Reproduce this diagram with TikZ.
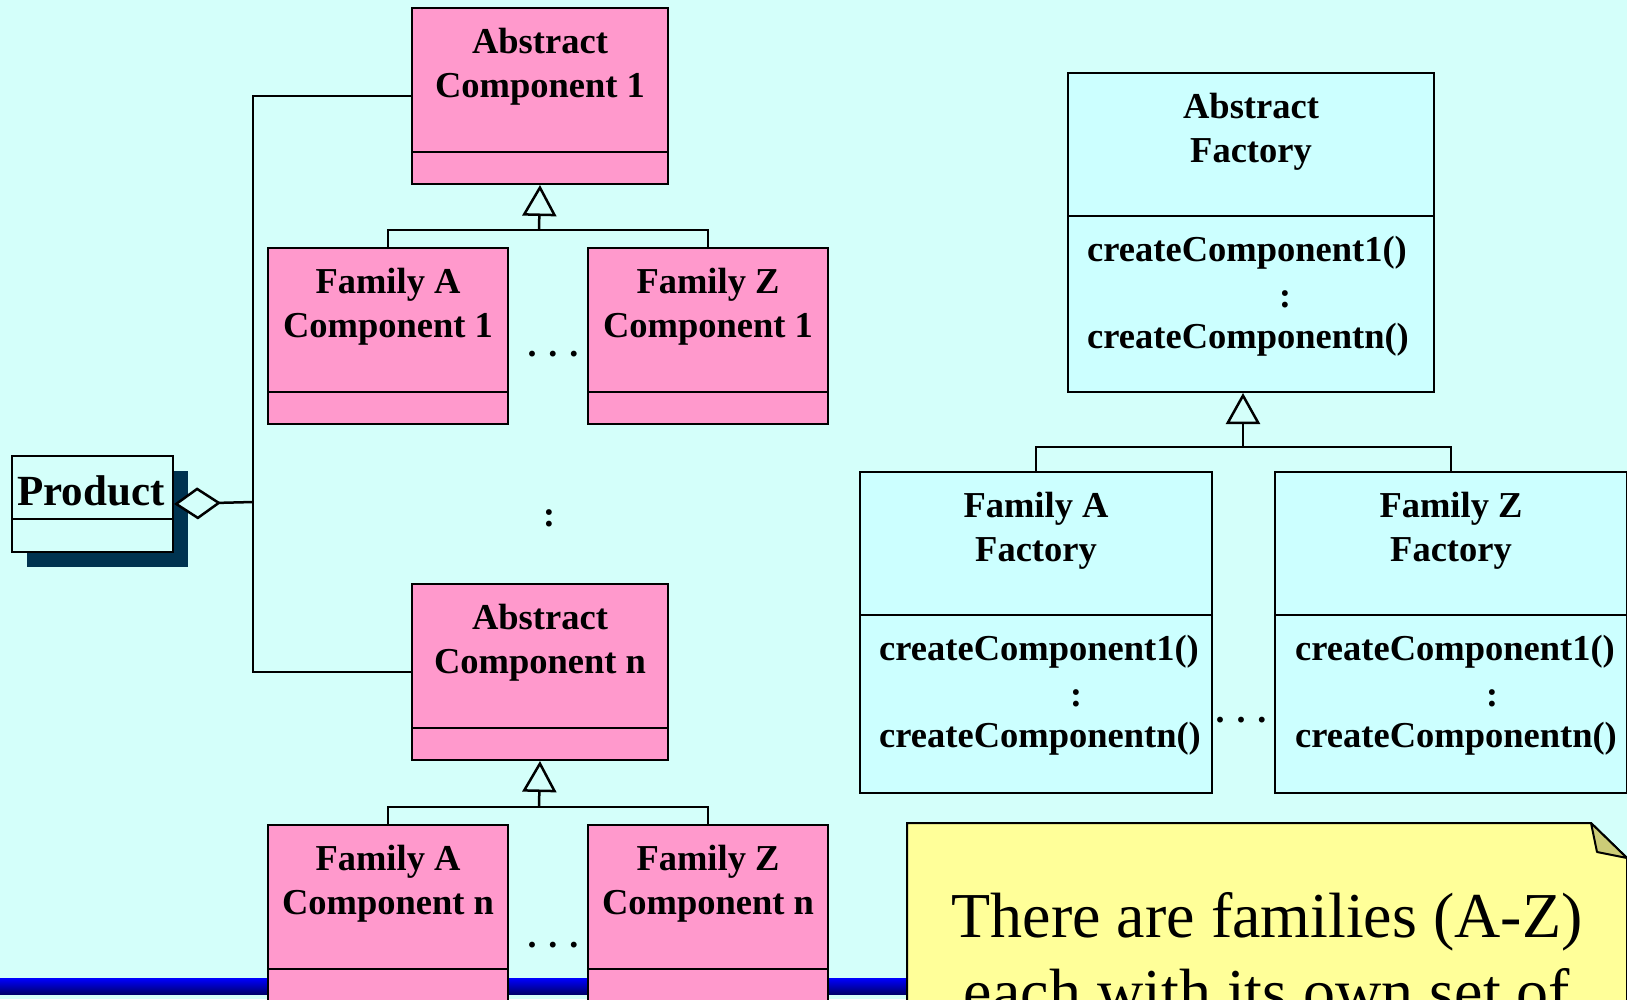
\documentclass[tikz,border=0pt]{standalone}
\usepackage{fontspec}
\setmainfont{Liberation Serif}
\usetikzlibrary{arrows.meta,shadows}

\definecolor{bgcyan}{RGB}{212,255,250}
\definecolor{factorycyan}{RGB}{204,255,255}
\definecolor{compink}{RGB}{255,153,204}
\definecolor{noteyellow}{RGB}{255,255,153}
\definecolor{notefold}{RGB}{204,204,119}
\definecolor{shadownavy}{RGB}{0,51,80}
\definecolor{barblue}{RGB}{0,0,255}
\definecolor{bardark}{RGB}{0,0,110}

\tikzset{
  classbox/.style={draw=black, line width=2pt, rectangle, inner sep=0pt, anchor=north west},
  compbox/.style={classbox, fill=compink},
  factbox/.style={classbox, fill=factorycyan},
  divider/.style={draw=black, line width=2pt},
  boxtitle/.style={anchor=north, inner sep=0pt, align=center, font=\fontsize{36.5}{44}\selectfont\bfseries},
  method/.style={anchor=base west, inner sep=0pt, font=\fontsize{36.5}{44}\selectfont\bfseries},
  sep/.style={anchor=base, inner sep=0pt, font=\fontsize{36}{44}\selectfont\bfseries},
  conn/.style={draw=black, line width=2.5pt},
  generalize/.style={conn, -{Triangle[fill=bgcyan, length=31pt, width=34pt, line width=2.5pt]}},
  aggregate/.style={conn, {Diamond[fill=bgcyan, length=47pt, width=32pt, line width=2.5pt]}-},
}

\begin{document}
\begin{tikzpicture}[x=1pt, y=-1pt]
  \useasboundingbox (0,0) rectangle (1627,999);
  \clip (0,0) rectangle (1627,999);
  \fill[bgcyan] (0,0) rectangle (1627,999);

  % slide footer bar
  \shade[top color=barblue, bottom color=bardark] (0,978) rectangle (907,994);

  % ---------- component hierarchy 1 ----------
  \node[compbox, minimum width=256pt, minimum height=176pt] (AC1) at (411,7) {};
  \draw[divider] ([yshift=-145pt]AC1.north west) -- ([yshift=-145pt]AC1.north east);
  \node[boxtitle] (AC1t) at ([yshift=-21pt]AC1.north) {Abstract\\Component\ 1};

  \node[compbox, minimum width=240pt, minimum height=176pt] (FA1) at (267,247) {};
  \draw[divider] ([yshift=-145pt]FA1.north west) -- ([yshift=-145pt]FA1.north east);
  \node[boxtitle] (FA1t) at ([yshift=-21pt]FA1.north) {Family A\\Component\ 1};

  \node[compbox, minimum width=240pt, minimum height=176pt] (FZ1) at (587,247) {};
  \draw[divider] ([yshift=-145pt]FZ1.north west) -- ([yshift=-145pt]FZ1.north east);
  \node[boxtitle] (FZ1t) at ([yshift=-21pt]FZ1.north) {Family Z\\Component\ 1};

  \node[sep] (dots1) at (553,356) {. . .};

  \coordinate (g1) at (539,230);
  \draw[conn] (FA1.north) |- (g1) -| (FZ1.north);
  \draw[generalize] (g1) -- (AC1.south);

  \node[sep] (vdots) at (549,526) {:};

  % ---------- component hierarchy n ----------
  \node[compbox, minimum width=256pt, minimum height=176pt] (ACn) at (411,583) {};
  \draw[divider] ([yshift=-145pt]ACn.north west) -- ([yshift=-145pt]ACn.north east);
  \node[boxtitle] (ACnt) at ([yshift=-21pt]ACn.north) {Abstract\\Component\ n};

  \node[compbox, minimum width=240pt, minimum height=178pt] (FAn) at (267,824) {};
  \draw[divider] ([yshift=-145pt]FAn.north west) -- ([yshift=-145pt]FAn.north east);
  \node[boxtitle] (FAnt) at ([yshift=-21pt]FAn.north) {Family A\\Component\ n};

  \node[compbox, minimum width=240pt, minimum height=178pt] (FZn) at (587,824) {};
  \draw[divider] ([yshift=-145pt]FZn.north west) -- ([yshift=-145pt]FZn.north east);
  \node[boxtitle] (FZnt) at ([yshift=-21pt]FZn.north) {Family Z\\Component\ n};

  \node[sep] (dots2) at (553,947) {. . .};

  \coordinate (g2) at (539,807);
  \draw[conn] (FAn.north) |- (g2) -| (FZn.north);
  \draw[generalize] (g2) -- (ACn.south);

  % ---------- product with aggregation ----------
  \node[classbox, fill=bgcyan, minimum width=161pt, minimum height=96pt,
        drop shadow={fill=shadownavy, opacity=1, shadow xshift=15pt, shadow yshift=-15pt}]
        (Product) at (11,455) {};
  \draw[divider] ([yshift=-64pt]Product.north west) -- ([yshift=-64pt]Product.north east);
  \node[anchor=base, inner sep=0pt, font=\fontsize{43}{50}\selectfont\bfseries] (Productt) at (91,505) {Product};

  \coordinate (bus) at (253,502);
  \draw[conn] (AC1.west) -| (bus) |- (ACn.west);
  \draw[aggregate] (Product.east) -- (bus);

  % ---------- factory hierarchy ----------
  \node[factbox, minimum width=366pt, minimum height=319pt] (AF) at (1067,72) {};
  \draw[divider] ([yshift=-144pt]AF.north west) -- ([yshift=-144pt]AF.north east);
  \node[boxtitle] (AFt) at ([yshift=-21pt]AF.north) {Abstract\\Factory};
  \node[method] (AFm1) at (1087,261) {createComponent1()};
  \node[sep] (AFc) at (1285,307) {:};
  \node[method] (AFm2) at (1087,348) {createComponentn()};

  \node[factbox, minimum width=352pt, minimum height=321pt] (FAF) at (859,471) {};
  \draw[divider] ([yshift=-144pt]FAF.north west) -- ([yshift=-144pt]FAF.north east);
  \node[boxtitle] (FAFt) at ([yshift=-21pt]FAF.north) {Family A\\Factory};
  \node[method] (FAFm1) at (879,660) {createComponent1()};
  \node[sep] (FAFc) at (1076,706) {:};
  \node[method] (FAFm2) at (879,747) {createComponentn()};

  \node[factbox, minimum width=352pt, minimum height=321pt] (FZF) at (1274,471) {};
  \draw[divider] ([yshift=-144pt]FZF.north west) -- ([yshift=-144pt]FZF.north east);
  \node[boxtitle] (FZFt) at ([yshift=-21pt]FZF.north) {Family Z\\Factory};
  \node[method] (FZFm1) at (1295,660) {createComponent1()};
  \node[sep] (FZFc) at (1492,706) {:};
  \node[method] (FZFm2) at (1295,747) {createComponentn()};

  \node[sep] (dots3) at (1241,722) {. . .};

  \coordinate (g3) at (1243,447);
  \draw[conn] (FAF.north) |- (g3) -| (FZF.north);
  \draw[generalize] (g3) -- (g3 |- AF.south);

  % ---------- note ----------
  \draw[line width=2pt, fill=noteyellow, line join=miter]
    (907,1010) -- (907,823) -- (1591,823) -- (1627,858) -- (1627,1010);
  \draw[line width=2pt, fill=notefold, line join=round]
    (1591,823) -- (1597,852) -- (1627,858) -- cycle;
  \node[anchor=north, inner sep=0pt, align=center, font=\fontsize{64}{76}\selectfont] (notetext)
    at (1267,892) {There are families (A-Z)\\each with its own set of};
\end{tikzpicture}
\end{document}
